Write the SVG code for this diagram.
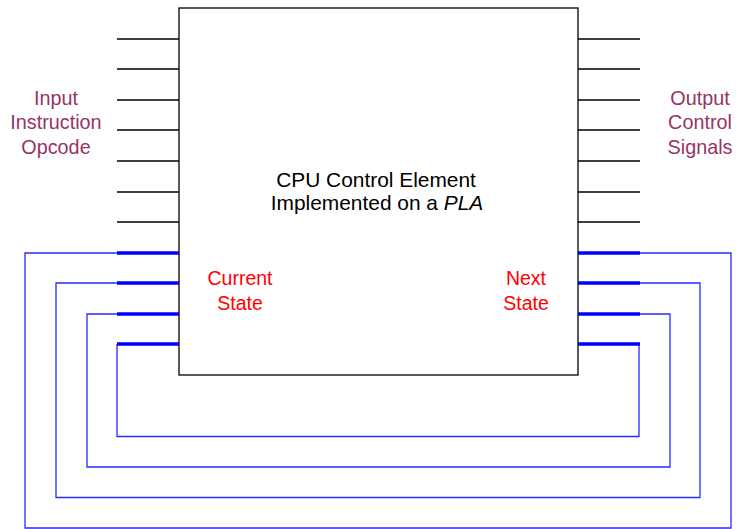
<svg xmlns="http://www.w3.org/2000/svg" width="736" height="529" viewBox="0 0 736 529">
<style>
.t{font-family:"Liberation Sans",Arial,sans-serif;text-anchor:middle}
.lbl{font-size:19.8px;fill:#993366}
.st{font-size:19.5px;fill:#ff0000}
.ctr{font-size:20.9px;fill:#000}
.pin{stroke:#000;stroke-width:1.3;fill:none}
.bus{stroke:#0000ff;stroke-width:3.5;fill:none}
.wire{stroke:#2a2aff;stroke-width:1.3;fill:none}
</style>
<rect width="736" height="529" fill="#fff"/>
<g id="pla">
<rect x="179" y="8" width="399" height="367" fill="#fff" stroke="#000" stroke-width="1.3"/>
<text class="t ctr" x="376" y="187">CPU Control Element</text>
<text class="t ctr" x="377" y="210">Implemented on a <tspan font-style="italic">PLA</tspan></text>
<text class="t st" x="240" y="285">Current</text>
<text class="t st" x="240" y="310">State</text>
<text class="t st" x="526" y="285">Next</text>
<text class="t st" x="526" y="310">State</text>
</g>
<g id="input-label">
<text class="t lbl" x="56" y="105">Input</text>
<text class="t lbl" x="56" y="129">Instruction</text>
<text class="t lbl" x="56" y="154">Opcode</text>
</g>
<g id="output-label">
<text class="t lbl" x="700" y="105">Output</text>
<text class="t lbl" x="700" y="129">Control</text>
<text class="t lbl" x="700" y="154">Signals</text>
</g>
<g id="connectors">
<path class="pin" d="M117 39H179M117 69H179M117 100H179M117 130H179M117 161H179M117 192H179M117 222H179"/>
<path class="pin" d="M578 39H640M578 69H640M578 100H640M578 130H640M578 161H640M578 192H640M578 222H640"/>
<path class="wire" d="M117 253H25V528H731V253H640"/>
<path class="wire" d="M117 283H56V497.5H700V283H640"/>
<path class="wire" d="M117 314H87V467H670V314H640"/>
<path class="wire" d="M117 344V436.5H639V344"/>
<path class="bus" d="M117 253H179M117 283H179M117 314H179M117 344H179"/>
<path class="bus" d="M578 253H640M578 283H640M578 314H640M578 344H640"/>
</g>
</svg>
